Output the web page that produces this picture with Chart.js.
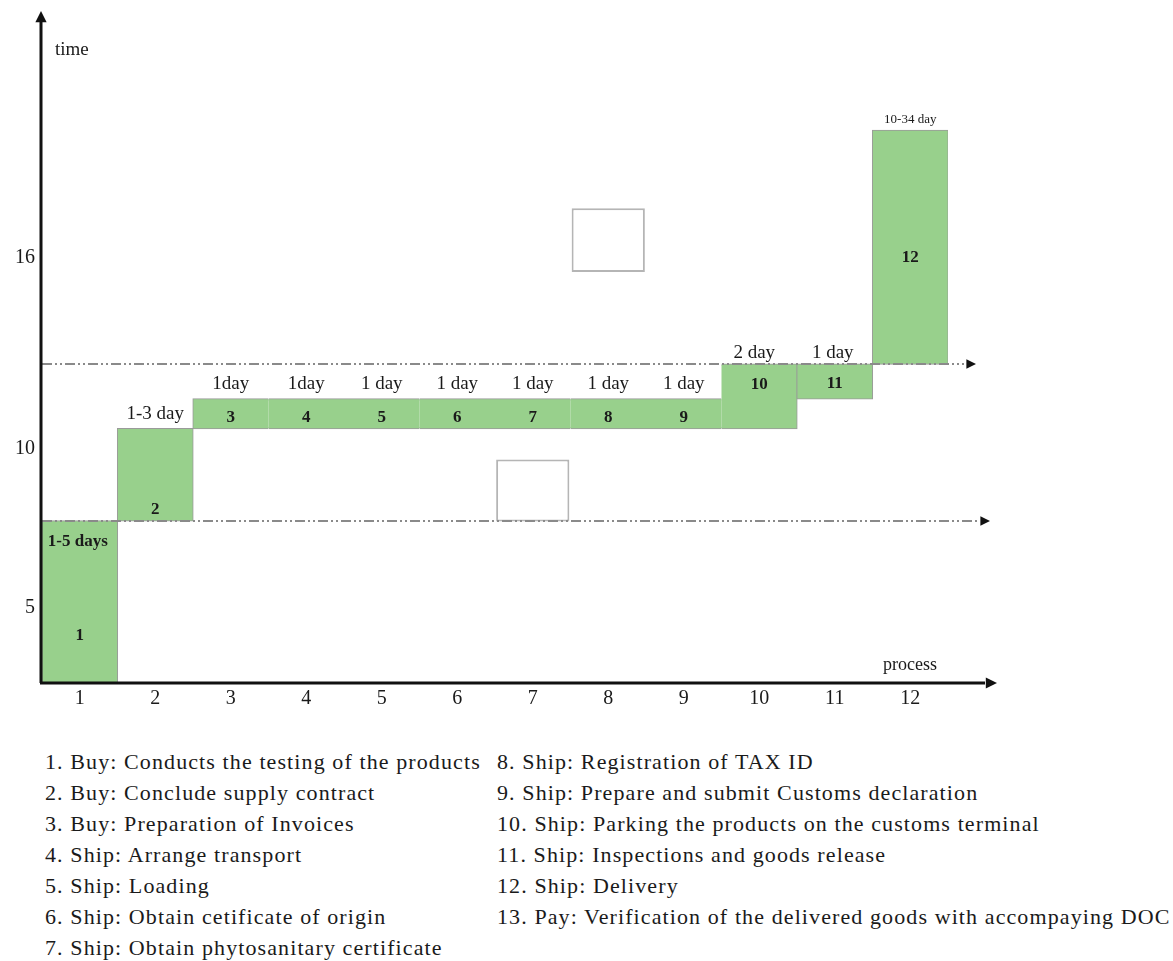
<!DOCTYPE html>
<html>
<head>
<meta charset="utf-8">
<script src="https://cdn.jsdelivr.net/npm/chart.js@4.4.1/dist/chart.umd.min.js"></script>
<style>
  body { margin: 0; background: #fff; }
  #wrap { position: relative; width: 1173px; height: 961px; overflow: hidden; }
  #chart { position: absolute; left: 0; top: 0; }
  .legend-col {
    position: absolute; top: 746px;
    font-family: "Liberation Serif", "Times New Roman", serif;
    font-size: 22px; line-height: 31px; color: #1a1a1a;
    letter-spacing: 1.1px; white-space: nowrap;
  }
</style>
</head>
<body>
<div id="wrap">
  <canvas id="chart" width="1173" height="740"></canvas>
  <div class="legend-col" id="legend-left" style="left:45px"></div>
  <div class="legend-col" id="legend-right" style="left:497px"></div>
</div>
<script>
const categories = ["1", "2", "3", "4", "5", "6", "7", "8", "9", "10", "11", "12"];

// floating step bars: start / end on the time axis
const stepStart = [2.625, 7.72, 10.625, 10.625, 10.625, 10.625, 10.625, 10.625, 10.625, 10.625, 11.56, 12.65];
const stepEnd = [7.72, 10.625, 11.56, 11.56, 11.56, 11.56, 11.56, 11.56, 11.56, 12.65, 12.65, 20.0];

// the two empty boxes in the picture
const boxStart = [null, null, null, null, null, null, 7.7, 15.55, null, null, null, null];
const boxEnd = [null, null, null, null, null, null, 9.65, 17.55, null, null, null, null];

const yTicks = [5, 10, 16];
const guideLevels = [7.72, 12.65];

const stepNumbers = ["1", "2", "3", "4", "5", "6", "7", "8", "9", "10", "11", "12"];
const durationLabels = ["1-5 days", "1-3 day", "1day", "1day", "1 day", "1 day", "1 day", "1 day", "1 day", "2 day", "1 day", "10-34 day"];

const legendLeft = [
  "1. Buy: Conducts the testing of the products",
  "2. Buy: Conclude supply contract",
  "3. Buy: Preparation of Invoices",
  "4. Ship: Arrange transport",
  "5. Ship: Loading",
  "6. Ship: Obtain cetificate of origin",
  "7. Ship: Obtain phytosanitary certificate",
];
const legendRight = [
  "8. Ship: Registration of TAX ID",
  "9. Ship: Prepare and submit Customs declaration",
  "10. Ship: Parking the products on the customs terminal",
  "11. Ship: Inspections and goods release",
  "12. Ship: Delivery",
  "13. Pay: Verification of the delivered goods with accompaying DOC",
];

const SERIF = '"Liberation Serif", "Times New Roman", serif';
const GREEN = "rgb(152, 208, 140)";

// where the text sits, in time-axis units
const numberY = [4.125, 8.09, 10.97, 10.97, 10.97, 10.97, 10.97, 10.97, 10.97, 12.0, 12.03, 16.0];
const durationY = [7.06, 11.09, 12.03, 12.03, 12.03, 12.03, 12.03, 12.03, 12.03, 13.0, 13.0, 20.34];

function fillLegend(id, lines) {
  const el = document.getElementById(id);
  for (const line of lines) {
    const div = document.createElement("div");
    div.textContent = line;
    el.appendChild(div);
  }
}
fillLegend("legend-left", legendLeft);
fillLegend("legend-right", legendRight);

// no vertical edge between two neighbours that share the same span
function sameSpan(i, j) {
  return j >= 0 && j < categories.length && stepStart[i] === stepStart[j] && stepEnd[i] === stepEnd[j];
}
function stepBorder(ctx) {
  const i = ctx.dataIndex;
  let left = sameSpan(i, i - 1) ? 0 : 1;
  let right = sameSpan(i, i + 1) ? 0 : 1;
  if (i === 9) left = 0; // bar 10 sits on the same strip as 3-9
  if (i === 8) right = 0;
  return { top: 1, bottom: 1, left, right };
}

function arrowHead(ctx, x, y, dir, size) {
  ctx.beginPath();
  if (dir === "right") {
    ctx.moveTo(x, y);
    ctx.lineTo(x - size * 1.6, y - size * 0.8);
    ctx.lineTo(x - size * 1.6, y + size * 0.8);
  } else {
    ctx.moveTo(x, y);
    ctx.lineTo(x - size * 0.8, y + size * 1.6);
    ctx.lineTo(x + size * 0.8, y + size * 1.6);
  }
  ctx.closePath();
  ctx.fill();
}

const decorations = {
  id: "decorations",
  afterDatasetsDraw(chart) {
    const { ctx, chartArea, scales } = chart;
    const x = scales.x;
    const y = scales.y;
    ctx.save();

    // dash-dot guide lines
    ctx.strokeStyle = "#8a8a8a";
    ctx.lineWidth = 2;
    ctx.setLineDash([10, 3, 2, 3, 2, 3]);
    const guideEnds = [986, 972];
    guideLevels.forEach((lvl, i) => {
      const py = Math.round(y.getPixelForValue(lvl));
      ctx.beginPath();
      ctx.moveTo(chartArea.left, py);
      ctx.lineTo(guideEnds[i] - 8, py);
      ctx.stroke();
    });
    ctx.setLineDash([]);
    ctx.fillStyle = "#111";
    guideLevels.forEach((lvl, i) => {
      arrowHead(ctx, guideEnds[i] + 4, Math.round(y.getPixelForValue(lvl)), "right", 6);
    });

    // axes
    ctx.strokeStyle = "#111";
    ctx.lineWidth = 3;
    ctx.beginPath();
    ctx.moveTo(chartArea.left - 1, chartArea.bottom);
    ctx.lineTo(chartArea.left - 1, 20);
    ctx.moveTo(chartArea.left - 2, chartArea.bottom);
    ctx.lineTo(985, chartArea.bottom);
    ctx.stroke();
    arrowHead(ctx, chartArea.left - 1, 11, "up", 7);
    arrowHead(ctx, 997, chartArea.bottom, "right", 7);

    // axis titles
    ctx.fillStyle = "#1a1a1a";
    ctx.font = "19px " + SERIF;
    ctx.textBaseline = "middle";
    ctx.textAlign = "left";
    ctx.fillText("time", 55, 50);
    ctx.font = "18px " + SERIF;
    ctx.textAlign = "center";
    ctx.fillText("process", 910, 665);

    // step numbers and durations
    categories.forEach((c, i) => {
      const px = x.getPixelForValue(i);
      ctx.fillStyle = "#1a1a1a";
      ctx.font = "bold 17px " + SERIF;
      ctx.fillText(stepNumbers[i], px, y.getPixelForValue(numberY[i]));

      let font = "19px " + SERIF;
      if (i === 0) font = "bold 17px " + SERIF;
      if (i === categories.length - 1) font = "13px " + SERIF;
      ctx.font = font;
      let dx = 0;
      if (i === 0) dx = -2;
      if (i === 9) dx = -5;
      if (i === 10) dx = -2;
      ctx.fillText(durationLabels[i], px + dx, y.getPixelForValue(durationY[i]));
    });

    ctx.restore();
  },
};

new Chart(document.getElementById("chart"), {
  type: "bar",
  data: {
    labels: categories,
    datasets: [
      {
        label: "steps",
        data: categories.map((c, i) => [stepStart[i], stepEnd[i]]),
        backgroundColor: GREEN,
        borderColor: "#9a9a9a",
        borderWidth: stepBorder,
        borderSkipped: false,
        inflateAmount: 0.6,
        barPercentage: 1,
        categoryPercentage: 1,
        grouped: false,
      },
      {
        label: "boxes",
        data: categories.map((c, i) => (boxStart[i] === null ? null : [boxStart[i], boxEnd[i]])),
        backgroundColor: "#ffffff",
        borderColor: "#b5b5b5",
        borderWidth: 2,
        borderSkipped: false,
        barPercentage: 0.97,
        categoryPercentage: 1,
        grouped: false,
      },
    ],
  },
  options: {
    responsive: false,
    devicePixelRatio: 1,
    animation: false,
    layout: { padding: { top: 15, right: 225, left: 0, bottom: 0 } },
    plugins: {
      legend: { display: false },
      tooltip: { enabled: false },
    },
    scales: {
      x: {
        grid: { display: false, drawTicks: false },
        border: { display: false },
        ticks: { font: { family: SERIF, size: 20 }, color: "#1a1a1a", padding: 4 },
        afterFit: (scale) => { scale.height = 57; },
      },
      y: {
        min: 2.625,
        max: 23.5,
        grid: { display: false, drawTicks: false },
        border: { display: false },
        ticks: { font: { family: SERIF, size: 20 }, color: "#1a1a1a", padding: 7 },
        afterBuildTicks: (scale) => { scale.ticks = yTicks.map((v) => ({ value: v })); },
        afterFit: (scale) => { scale.width = 42; },
      },
    },
  },
  plugins: [decorations],
});
</script>
</body>
</html>
